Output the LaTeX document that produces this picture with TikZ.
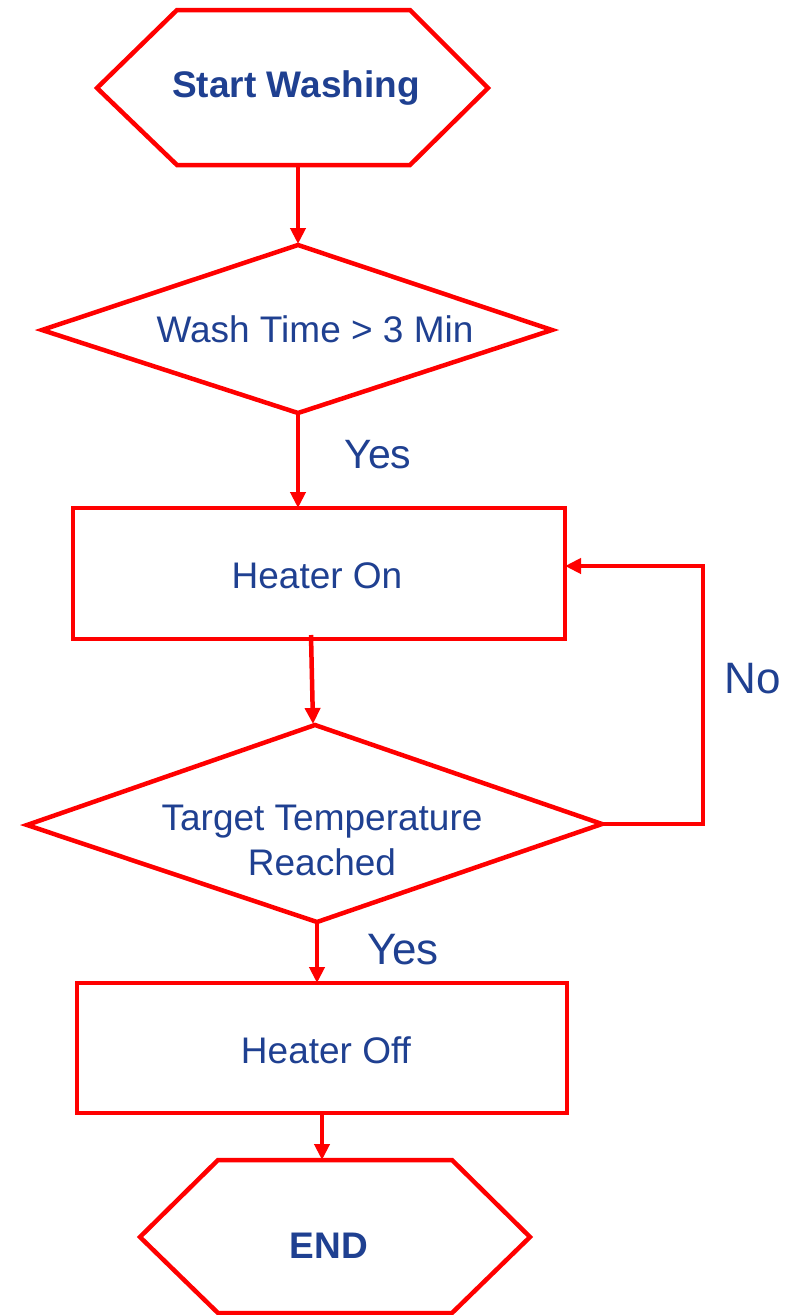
\documentclass[tikz,border=0pt]{standalone}
\usepackage{fontspec}
\setmainfont{Liberation Sans}
\usetikzlibrary{arrows.meta,calc}
\definecolor{fred}{RGB}{255,0,0}
\definecolor{tblue}{RGB}{31,64,145}
\begin{document}
\begin{tikzpicture}[x=1pt,y=-1pt,
  shapeline/.style={draw=fred,line width=4.5pt,fill=white,line join=miter},
  flow/.style={draw=fred,line width=4.5pt,line join=miter,-{Triangle[length=16pt,width=15pt]}},
  txt/.style={text=tblue,font=\fontsize{37}{45}\selectfont,inner sep=0pt,anchor=base},
  btxt/.style={txt,font=\fontsize{37}{45}\selectfont\bfseries},
  ytxt/.style={text=tblue,inner sep=0pt,anchor=base}]
\useasboundingbox (0,0) rectangle (800,1315);
% Start hexagon
\coordinate (s1) at (97,88); \coordinate (s2) at (177,10); \coordinate (s3) at (410,10);
\coordinate (s4) at (488,88); \coordinate (s5) at (410,165); \coordinate (s6) at (177,165);
\draw[shapeline] (s1)--(s2)--(s3)--(s4)--(s5)--(s6)--cycle;
\node[btxt] (start) at (296,97) {Start Washing};
\coordinate (startB) at (298,165);
% Diamond 1
\coordinate (d1l) at (42,330); \coordinate (d1t) at (298,245);
\coordinate (d1r) at (552,330); \coordinate (d1b) at (298,413);
\draw[shapeline] (d1l)--(d1t)--(d1r)--(d1b)--cycle;
\node[txt] (wash) at (315,342) {Wash Time > 3 Min};
% Rect 1
\coordinate (r1a) at (73,508); \coordinate (r1b) at (565,639);
\draw[shapeline] (r1a) rectangle (r1b);
\node[txt] (heaton) at (317,588) {Heater On};
\coordinate (r1top) at (298,508);
\coordinate (r1bot) at (311,635);
\coordinate (r1right) at (565,566);
% Diamond 2
\coordinate (d2l) at (27,825); \coordinate (d2t) at (315,725);
\coordinate (d2r) at (602,824); \coordinate (d2b) at (317,922);
\draw[shapeline] (d2l)--(d2t)--(d2r)--(d2b)--cycle;
\node[txt] (target) at (322,830) {Target Temperature};
\node[txt] (reached) at (322,875) {Reached};
% Rect 2
\coordinate (r2a) at (77,983); \coordinate (r2b) at (567,1113);
\draw[shapeline] (r2a) rectangle (r2b);
\node[txt] (heatoff) at (326,1063) {Heater Off};
\coordinate (r2top) at (317,983);
\coordinate (r2bot) at (322,1113);
% End hexagon
\coordinate (e1) at (140,1237); \coordinate (e2) at (218,1160); \coordinate (e3) at (452,1160);
\coordinate (e4) at (530,1237); \coordinate (e5) at (452,1313); \coordinate (e6) at (218,1313);
\draw[shapeline] (e1)--(e2)--(e3)--(e4)--(e5)--(e6)--cycle;
\node[btxt] (end) at (329,1258) {END};
\coordinate (endT) at (322,1160);
% Connectors
\draw[flow] (startB) -- ($(d1t)+(0,-1)$);
\draw[flow] (d1b) -- (r1top);
\draw[flow] (r1bot) -- ($(d2t)+(-2,-1)$);
\draw[flow] (d2b) -- (r2top);
\draw[flow] (r2bot) -- (endT);
\coordinate (lp1) at (703,824); \coordinate (lp2) at (703,566);
\draw[flow] (d2r) -- (lp1) -- (lp2) -- (r1right);
% Labels
\node[ytxt,font=\fontsize{41}{48}\selectfont] (yes1) at (378,468) {Yes};
\node[ytxt,font=\fontsize{44}{52}\selectfont] (yes2) at (403,964) {Yes};
\node[ytxt,font=\fontsize{44}{52}\selectfont] (no) at (753,693) {No};
\end{tikzpicture}
\end{document}
